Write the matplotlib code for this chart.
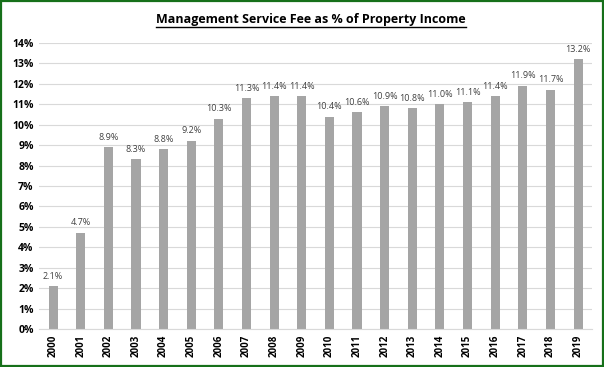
import numpy as np
import matplotlib
matplotlib.use('Agg')
import matplotlib.pyplot as plt
from matplotlib.lines import Line2D
from matplotlib.patches import Rectangle

# data
years = ['2000', '2001', '2002', '2003', '2004', '2005', '2006', '2007', '2008', '2009',
         '2010', '2011', '2012', '2013', '2014', '2015', '2016', '2017', '2018', '2019']
fee_pct = [2.1, 4.7, 8.9, 8.3, 8.8, 9.2, 10.3, 11.3, 11.4, 11.4,
           10.4, 10.6, 10.9, 10.8, 11.0, 11.1, 11.4, 11.9, 11.7, 13.2]
y_ticks = [0, 1, 2, 3, 4, 5, 6, 7, 8, 9, 10, 11, 12, 13, 14]

plt.rcParams['font.family'] = ['Open Sans', 'DejaVu Sans']

fig = plt.figure(figsize=(6.04, 3.67), dpi=100)
ax = fig.add_axes([0.065, 0.1035, 0.915, 0.7795])

x = np.arange(len(years))
ax.bar(x, fee_pct, width=0.33, color='#a5a5a5', zorder=2)

# data labels
for xi, v in zip(x, fee_pct):
    ax.annotate('%.1f%%' % v, (xi, v), xytext=(0, 4), textcoords='offset points',
                ha='center', va='bottom', fontsize=6.5, color='#404040')

ax.set_xlim(-0.5, len(years) - 0.5)
ax.set_ylim(0, 14)
ax.set_yticks(y_ticks)
ax.set_yticklabels(['%d%%' % t for t in y_ticks], fontsize=7.5, fontweight='bold')
ax.set_xticks(x)
ax.set_xticklabels(years, rotation=90, fontsize=7, fontweight='bold')
ax.tick_params(axis='both', length=0, pad=4)
ax.grid(axis='y', color='#d9d9d9', linewidth=0.8, zorder=0)
for s in ['top', 'right', 'left']:
    ax.spines[s].set_visible(False)
ax.spines['bottom'].set_color('#d9d9d9')

# title with underline
title = fig.text(0.515, 0.948, 'Management Service Fee as % of Property Income',
                 ha='center', va='center', fontsize=9, fontweight='bold')
fig.canvas.draw()
bb = title.get_window_extent().transformed(fig.transFigure.inverted())
fig.add_artist(Line2D([bb.x0, bb.x1], [bb.y0 - 0.004, bb.y0 - 0.004],
                      transform=fig.transFigure, color='black', linewidth=1))

# green outer border
fig.add_artist(Rectangle((0.002, 0.003), 0.996, 0.994, transform=fig.transFigure,
                         fill=False, edgecolor='#16701a', linewidth=1.6))

fig.savefig('out.png', dpi=100)
